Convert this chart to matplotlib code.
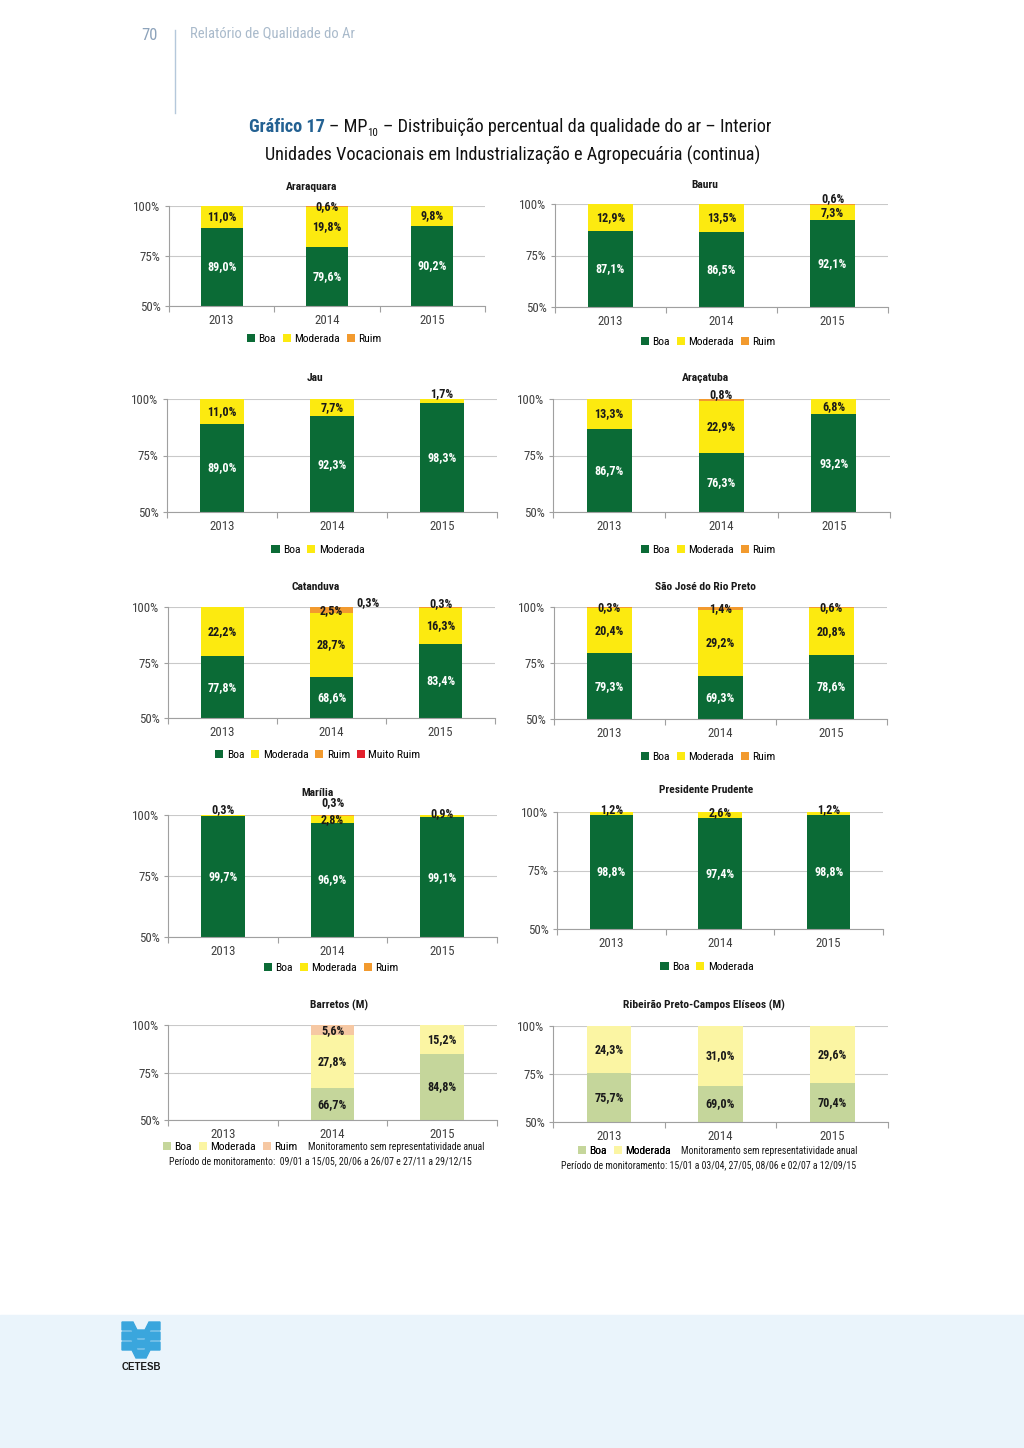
import os
import numpy as np
import matplotlib
matplotlib.use('Agg')
import matplotlib.pyplot as plt
from matplotlib import font_manager as fm
from matplotlib.font_manager import FontProperties
from matplotlib.patches import Patch, Rectangle, Polygon

W, H = 1024, 1448

years = ['2013', '2014', '2015']

# dados (% de dias por classe de qualidade)
araraquara = {'Boa': [89.0, 79.6, 90.2], 'Moderada': [11.0, 19.8, 9.8], 'Ruim': [0.0, 0.6, 0.0]}
bauru = {'Boa': [87.1, 86.5, 92.1], 'Moderada': [12.9, 13.5, 7.3], 'Ruim': [0.0, 0.0, 0.6]}
jau = {'Boa': [89.0, 92.3, 98.3], 'Moderada': [11.0, 7.7, 1.7]}
aracatuba = {'Boa': [86.7, 76.3, 93.2], 'Moderada': [13.3, 22.9, 6.8], 'Ruim': [0.0, 0.8, 0.0]}
catanduva = {'Boa': [77.8, 68.6, 83.4], 'Moderada': [22.2, 28.7, 16.3],
             'Ruim': [0.0, 2.5, 0.3], 'Muito Ruim': [0.0, 0.3, 0.0]}
sjrp = {'Boa': [79.3, 69.3, 78.6], 'Moderada': [20.4, 29.2, 20.8], 'Ruim': [0.3, 1.4, 0.6]}
marilia = {'Boa': [99.7, 96.9, 99.1], 'Moderada': [0.3, 2.8, 0.9], 'Ruim': [0.0, 0.3, 0.0]}
prudente = {'Boa': [98.8, 97.4, 98.8], 'Moderada': [1.2, 2.6, 1.2]}
barretos = {'Boa': [np.nan, 66.7, 84.8], 'Moderada': [np.nan, 27.8, 15.2], 'Ruim': [np.nan, 5.6, 0.0]}
ribeirao = {'Boa': [75.7, 69.0, 70.4], 'Moderada': [24.3, 31.0, 29.6]}

cores = {'Boa': '#0b6b36', 'Moderada': '#fcea10', 'Ruim': '#f29a2e', 'Muito Ruim': '#e2202c'}
cores_claras = {'Boa': '#c5d69b', 'Moderada': '#fbf5a3', 'Ruim': '#f6c8a3'}

nota_barretos = 'Período de monitoramento:  09/01 a 15/05, 20/06 a 26/07 e 27/11 a 29/12/15'
nota_ribeirao = 'Período de monitoramento: 15/01 a 03/04, 27/05, 08/06 e 02/07 a 12/09/15'
sem_repr = 'Monitoramento sem representatividade anual'

# layout em pixels: (x0, x1, y100, y50), título (x, y), legenda (x, y), ajustes de rótulos
paineis = [
    ('Araraquara', araraquara, False, (169, 485, 206, 306), (312, 187), (314, 339), {}),
    ('Bauru', bauru, False, (555, 888, 204, 307), (705, 185), (708, 342), {('Ruim', 2): (0, 4)}),
    ('Jau', jau, False, (167, 497, 399, 512), (315, 378), (318, 550), {('Moderada', 2): (0, 5)}),
    ('Araçatuba', aracatuba, False, (553, 890, 399, 512), (705, 378), (708, 550), {('Ruim', 1): (0, 3.5)}),
    ('Catanduva', catanduva, False, (168, 495, 607, 718), (316, 587), (318, 755),
     {('Muito Ruim', 1): (26, 3.5), ('Ruim', 2): (0, 3)}),
    ('São José do Rio Preto', sjrp, False, (554, 887, 607, 719), (705, 587), (708, 757), {}),
    ('Marília', marilia, False, (168, 497, 815, 937), (318, 793), (331, 968),
     {('Moderada', 0): (0, 4.5), ('Ruim', 1): (0, 9), ('Moderada', 2): (0, 2)}),
    ('Presidente Prudente', prudente, False, (557, 883, 812, 929), (706, 790), (707, 967),
     {('Moderada', 0): (0, 3), ('Moderada', 1): (0, 1.5), ('Moderada', 2): (0, 3)}),
    ('Barretos (M)', barretos, True, (168, 497, 1025, 1120), (339, 1005), (163, 1147), {}),
    ('Ribeirão Preto-Campos Elíseos (M)', ribeirao, True, (553, 888, 1026, 1122), (704, 1005), (578, 1151), {}),
]


# procura uma fonte estreita instalada (parecida com a do relatório)
def peso(w):
    return fm.weight_dict.get(w, w) if isinstance(w, str) else w


cand = []
for f in fm.fontManager.ttflist:
    base = os.path.basename(f.fname)
    if f.style != 'normal' or 'Extra' in base or 'Ultra' in base or 'Semi' in base:
        continue
    if ('Narrow' in f.name or 'Condensed' in f.name or 'Condensed' in base
            or str(f.stretch) in ('condensed', 'semi-condensed')):
        cand.append(f)

reg_file, bold_file = None, None
for pref in ['Liberation Sans Narrow', 'Roboto Condensed', 'Noto Sans', 'Roboto', 'Open Sans', 'DejaVu Sans']:
    grupo = [f for f in cand if f.name.startswith(pref)]
    regs = [f for f in grupo if peso(f.weight) == 400]
    bolds = [f for f in grupo if peso(f.weight) == 700]
    if regs:
        reg_file = regs[0].fname
        bold_file = bolds[0].fname if bolds else regs[0].fname
        break


def fp(size, bold=False):
    if reg_file:
        return FontProperties(fname=bold_file if bold else reg_file, size=size)
    return FontProperties(family='Liberation Sans', weight='bold' if bold else 'normal', size=size)


plt.rcParams['font.family'] = ['Liberation Sans', 'DejaVu Sans']

fig = plt.figure(figsize=(W / 100, H / 100), dpi=100)

# eixo de fundo em coordenadas de pixel
bg = fig.add_axes([0, 0, 1, 1])
bg.set_xlim(0, W)
bg.set_ylim(H, 0)
bg.axis('off')

# cabeçalho
bg.text(158, 36, '70', fontproperties=fp(12), color='#8da3bb', ha='right', va='center')
bg.plot([175, 175], [30, 113], color='#b5c8db', lw=1)
bg.text(190, 33, 'Relatório de Qualidade do Ar', fontproperties=fp(10.5), color='#a9bacb',
        ha='left', va='center')

r = fig.canvas.get_renderer()


def largura(t):
    return t.get_window_extent(r).width


# tamanho do título ajustado à largura da segunda linha (494 px no original)
linha2 = 'Unidades Vocacionais em Industrialização e Agropecuária (continua)'
tt = bg.text(0, 0, linha2, fontproperties=fp(10))
tsize = min(13.5, 10 * 494 / largura(tt))
tt.remove()
escala = tsize / 13.5

esp = bg.text(0, 0, 'a a', fontproperties=fp(tsize))
esp2 = bg.text(0, 0, 'aa', fontproperties=fp(tsize))
space = largura(esp) - largura(esp2)
esp.remove()
esp2.remove()

pecas = [('Gráfico 17', '#236192', True, tsize, 0, space),
         ('– MP', '#111111', False, tsize, 0, 0),
         ('10', '#111111', False, tsize * 0.6, 4, space),
         ('– Distribuição percentual da qualidade do ar – Interior', '#111111', False, tsize, 0, 0)]
objs = []
for s, c, b, sz, dy, gap in pecas:
    t = bg.text(0, 132 + dy, s, fontproperties=fp(sz, b), color=c, ha='left', va='baseline')
    objs.append((t, gap))
total = sum(largura(t) + g for t, g in objs)
x = 510 - total / 2
for t, g in objs:
    t.set_x(x)
    x += largura(t) + g
bg.text(513, 161, linha2, fontproperties=fp(tsize), color='#111111', ha='center', va='baseline')

# faixa inferior e logotipo
bg.add_patch(Rectangle((0, 1315), W, H - 1315, color='#eaf4fb', zorder=0))
azul = '#3aa6dd'
for k in range(3):
    y0 = 1322 + k * 10
    bg.add_patch(Polygon([(122, y0), (133, y0), (137, y0 + 8), (145, y0 + 8), (149, y0), (160, y0),
                          (160, y0 + 8), (150, y0 + 8), (146, y0 + 16), (136, y0 + 16), (132, y0 + 8),
                          (122, y0 + 8)], closed=True, color=azul, zorder=1))
bg.text(141, 1367, 'CETESB', fontsize=7, fontweight='bold', family='Liberation Sans',
        color='#1a1a1a', ha='center', va='center')


def fmt(v):
    return f'{v:.1f}%'.replace('.', ',')


for titulo, dados, pale, box, tpos, lpos, ajustes in paineis:
    x0, x1, y100, y50 = box
    ax = fig.add_axes([x0 / W, 1 - y50 / H, (x1 - x0) / W, (y50 - y100) / H])
    ax.set_facecolor('none')
    pal = cores_claras if pale else cores
    pos = np.arange(len(years))
    base = np.zeros(len(years))
    for nome, vals in dados.items():
        v = np.array(vals, dtype=float)
        ax.bar(pos, v, 0.4, bottom=base, color=pal[nome], zorder=2)
        for i in range(len(years)):
            if not np.isfinite(v[i]) or v[i] == 0:
                continue
            lo = max(base[i], 50)
            hi = base[i] + v[i]
            dx, dy = ajustes.get((nome, i), (0, 0))
            cor = 'white' if (nome == 'Boa' and not pale) else '#1a1a1a'
            ax.annotate(fmt(v[i]), (i, (lo + hi) / 2), xytext=(dx, dy), textcoords='offset points',
                        ha='center', va='center', fontproperties=fp(9 * escala, True), color=cor,
                        zorder=4, annotation_clip=False)
        base = base + np.nan_to_num(v)

    ax.set_xlim(-0.5, 2.5)
    ax.set_ylim(50, 100)
    ax.set_yticks([50, 75, 100], ['50%', '75%', '100%'])
    ax.yaxis.grid(True, color='#c9c9c9', lw=0.8, zorder=0)
    ax.set_axisbelow(True)
    ax.set_xticks(pos, years)
    ax.set_xticks([-0.5, 0.5, 1.5, 2.5], minor=True)
    ax.tick_params(axis='x', which='major', length=0, pad=6, labelcolor='#404040')
    ax.tick_params(axis='x', which='minor', length=4, color='#a0a0a0', width=0.8)
    ax.tick_params(axis='y', length=3, color='#a0a0a0', width=0.8, pad=3, labelcolor='#404040')
    for lab in ax.get_xticklabels() + ax.get_yticklabels():
        lab.set_fontproperties(fp(9.5 * escala))
    for s in ['top', 'right']:
        ax.spines[s].set_visible(False)
    for s in ['left', 'bottom']:
        ax.spines[s].set_color('#a0a0a0')
        ax.spines[s].set_linewidth(0.8)

    bg.text(tpos[0], tpos[1], titulo, fontproperties=fp(8.5 * escala, True), color='#1a1a1a',
            ha='center', va='center')

    handles = [Patch(facecolor=pal[n], edgecolor='none') for n in dados]
    opts = dict(bbox_transform=bg.transData, ncol=len(handles), frameon=False,
                prop=fp(8.5 * escala), handlelength=0.7, handleheight=0.7, handletextpad=0.3,
                columnspacing=0.6, borderpad=0, borderaxespad=0)
    if pale:
        leg = bg.legend(handles, list(dados), loc='center left', bbox_to_anchor=lpos, **opts)
        bg.add_artist(leg)
        ext = leg.get_window_extent(r)
        bg.text(ext.x1 + 10, lpos[1], sem_repr, fontproperties=fp(7.3 * escala), color='#1a1a1a',
                ha='left', va='center')
        nota = nota_barretos if titulo.startswith('Barretos') else nota_ribeirao
        bg.text((x0 + x1) / 2 - 12, lpos[1] + 14, nota, fontproperties=fp(7.3 * escala),
                color='#1a1a1a', ha='center', va='center')
    else:
        leg = bg.legend(handles, list(dados), loc='center', bbox_to_anchor=lpos, **opts)
        bg.add_artist(leg)

fig.savefig('out.png', dpi=100)
